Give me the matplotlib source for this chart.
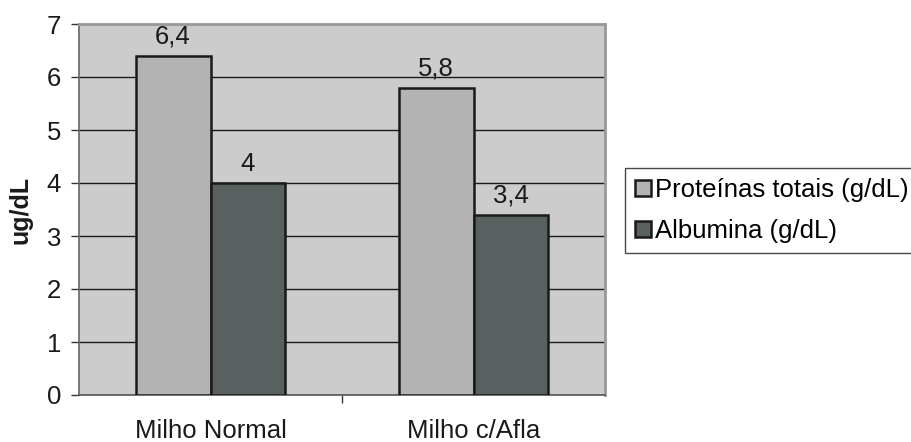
import matplotlib
matplotlib.use("Agg")
import matplotlib.pyplot as plt
import numpy as np

plt.rcParams['font.family'] = ['Liberation Sans', 'DejaVu Sans']

categories = ["Milho Normal", "Milho c/Afla"]
series_names = ["Proteínas totais (g/dL)", "Albumina (g/dL)"]
proteinas = [6.4, 5.8]
albumina = [4.0, 3.4]
value_labels = [["6,4", "5,8"], ["4", "3,4"]]
colors = ["#b3b3b3", "#58615f"]

FS = 18.5

fig = plt.figure(figsize=(9.11, 4.42), dpi=100)
ax = fig.add_axes([79 / 911, 1 - 395 / 442, (605 - 79) / 911, (395 - 24) / 442])
ax.set_facecolor("#cccccc")

x = np.arange(len(categories))
w = 0.285
handles = []
for i, (vals, col) in enumerate(zip([proteinas, albumina], colors)):
    offs = (i - 0.5) * w
    b = ax.bar(x + offs, vals, width=w, color=col, edgecolor="#1a1a1a",
               linewidth=1.8, zorder=3, label=series_names[i])
    handles.append(b)
    for xi, v, lab in zip(x + offs, vals, value_labels[i]):
        ax.text(xi, v + 0.14, lab, ha="center", va="bottom", fontsize=FS,
                color="#1a1a1a", zorder=4)

ax.set_xlim(-0.5, 1.5)
ax.set_ylim(0, 7)
ax.set_yticks(range(0, 8))
ax.yaxis.grid(True, color="#1a1a1a", linewidth=1.0, zorder=1)
ax.set_axisbelow(True)

ax.set_xticks([0.5])
ax.set_xticklabels([""])
ax.tick_params(axis="x", length=6, width=1, color="#333333")
for xi, c in zip(x, categories):
    ax.text(xi, -0.46, c, ha="center", va="top", fontsize=FS,
            transform=ax.transData, color="#1a1a1a")

ax.tick_params(axis="y", length=6, width=1, color="#333333", labelsize=FS,
               labelcolor="#1a1a1a", pad=7)
ax.set_ylabel("ug/dL", fontsize=18, fontweight="bold", labelpad=10, color="#1a1a1a")

for s in ["top", "right"]:
    ax.spines[s].set_color("#999999")
    ax.spines[s].set_linewidth(2)
ax.spines["left"].set_color("#666666")
ax.spines["left"].set_linewidth(1.2)
ax.spines["bottom"].set_color("#555555")
ax.spines["bottom"].set_linewidth(1.2)

leg = fig.legend(handles=handles, labels=series_names, loc="upper left",
                 bbox_to_anchor=(625 / 911, 1 - 168 / 442), fontsize=FS,
                 frameon=True, fancybox=False, edgecolor="#1a1a1a",
                 handlelength=0.6, handleheight=0.6, handletextpad=0.15,
                 borderpad=0.4, labelspacing=0.65, borderaxespad=0)
leg.get_frame().set_linewidth(1.0)

fig.savefig("out.png", dpi=100, facecolor="white")
